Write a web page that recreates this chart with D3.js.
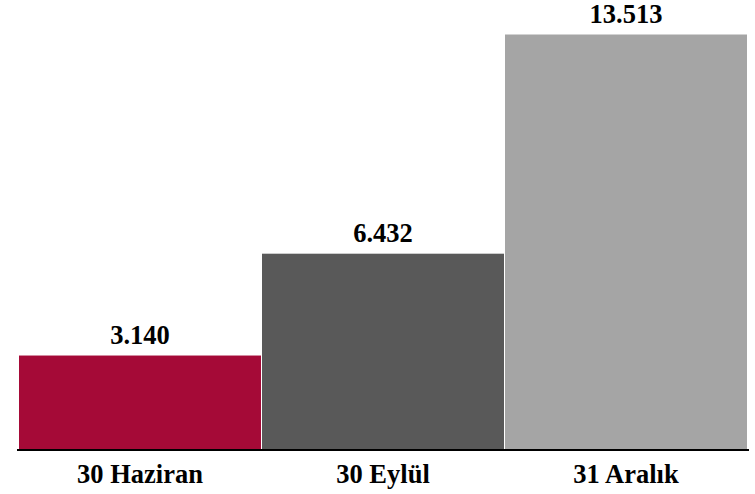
<!DOCTYPE html>
<html>
<head>
<meta charset="utf-8">
<script src="https://cdn.jsdelivr.net/npm/d3@7"></script>
<style>
  html, body { margin: 0; padding: 0; background: #fff; }
  svg text { font-family: "Liberation Serif", "Times New Roman", serif; font-weight: bold; fill: #000; }
</style>
</head>
<body>
<svg width="755" height="494"></svg>
<script>
// veriler
var categories = ["30 Haziran", "30 Eylül", "31 Aralık"];
var values = [3140, 6432, 13513];
var valueLabels = ["3.140", "6.432", "13.513"];
var colors = ["#A50A37", "#595959", "#A5A5A5"];

var svg = d3.select("svg");
var baseY = 450;

var x = d3.scaleBand()
  .domain(categories)
  .range([18.5, 747.5])
  .padding(0);

var y = d3.scaleLinear()
  .domain([0, 13513])
  .range([452.2, 34]);

svg.selectAll("rect.bar")
  .data(values)
  .enter()
  .append("rect")
  .attr("class", "bar")
  .attr("x", function(d, i) { return x(categories[i]); })
  .attr("y", function(d) { return y(d); })
  .attr("width", x.bandwidth())
  .attr("height", function(d) { return baseY - y(d); })
  .attr("fill", function(d, i) { return colors[i]; })
  .attr("stroke", "#fff")
  .attr("stroke-width", 1);

// eksen çizgisi
svg.append("line")
  .attr("x1", 17)
  .attr("x2", 749)
  .attr("y1", baseY)
  .attr("y2", baseY)
  .attr("stroke", "#000")
  .attr("stroke-width", 2);

// değer etiketleri
svg.selectAll("text.val")
  .data(values)
  .enter()
  .append("text")
  .attr("class", "val")
  .attr("x", function(d, i) { return x(categories[i]) + x.bandwidth() / 2; })
  .attr("y", function(d) { return y(d) - 11; })
  .attr("text-anchor", "middle")
  .style("font-size", "26.5px")
  .text(function(d, i) { return valueLabels[i]; });

// kategori etiketleri
svg.selectAll("text.cat")
  .data(categories)
  .enter()
  .append("text")
  .attr("class", "cat")
  .attr("x", function(d) { return x(d) + x.bandwidth() / 2; })
  .attr("y", 483)
  .attr("text-anchor", "middle")
  .style("font-size", "26.5px")
  .text(function(d) { return d; });
</script>
</body>
</html>
